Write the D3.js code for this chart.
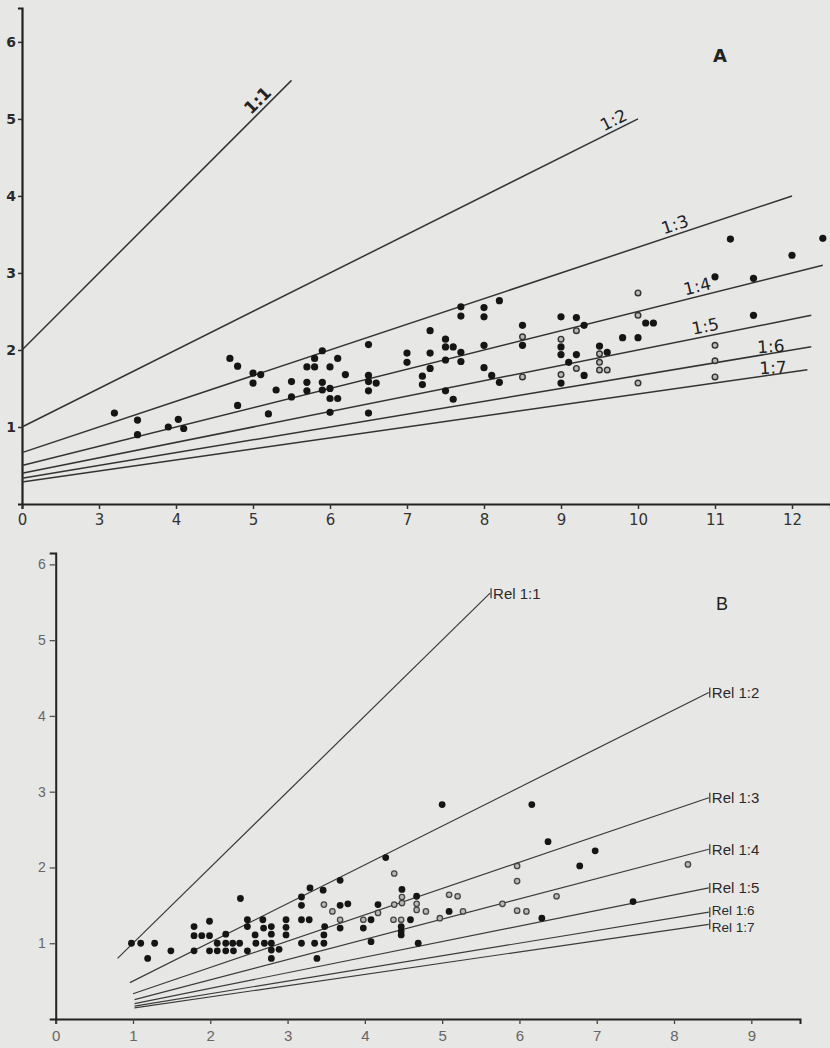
<!DOCTYPE html>
<html><head><meta charset="utf-8">
<script src="https://cdn.jsdelivr.net/npm/d3@7"></script>
<style>body{margin:0;background:#e7e7e5;}svg{display:block;}</style>
</head><body>
<svg id="chart" width="830" height="1048"></svg>
<script>
// ---------- Panel A data ----------
const ratiosA = [1, 2, 3, 4, 5, 6, 7];
const lineStartA = [2, 2, 2, 2, 2, 2, 2];
const lineEndA = [5.5, 10, 12, 12.4, 12.25, 12.25, 12.2];
const labelsA = ["1:1", "1:2", "1:3", "1:4", "1:5", "1:6", "1:7"];
const labelXA = [5.15, 9.74, 10.52, 10.8, 10.9, 11.73, 11.76];
const xTicksA = [2, 3, 4, 5, 6, 7, 8, 9, 10, 11, 12];
const xTickLabelsA = ["0", "3", "4", "5", "6", "7", "8", "9", "10", "11", "12"];
const yTicksA = [1, 2, 3, 4, 5, 6];
const filledA = [
  [3.2,1.18],[3.5,1.09],[3.5,0.9],[3.9,1.0],[4.03,1.1],[4.1,0.98],
  [4.7,1.89],[4.8,1.79],[4.8,1.28],[5.0,1.7],[5.0,1.57],[5.1,1.68],[5.2,1.17],[5.3,1.48],
  [5.5,1.59],[5.5,1.39],[5.7,1.78],[5.7,1.58],[5.7,1.47],[5.8,1.89],[5.8,1.78],[5.9,1.99],
  [5.9,1.58],[5.9,1.48],[6.0,1.78],[6.0,1.5],[6.0,1.37],[6.0,1.19],[6.1,1.89],[6.1,1.37],
  [6.2,1.68],[6.5,2.07],[6.5,1.67],[6.5,1.59],[6.5,1.47],[6.5,1.18],[6.6,1.57],
  [7.0,1.96],[7.0,1.84],[7.2,1.66],[7.2,1.55],[7.3,2.25],[7.3,1.96],[7.3,1.76],
  [7.5,2.14],[7.5,2.04],[7.5,1.87],[7.5,1.47],[7.6,2.04],[7.6,1.36],
  [7.7,2.56],[7.7,2.44],[7.7,1.97],[7.7,1.85],[8.0,2.55],[8.0,2.43],[8.0,2.06],[8.0,1.77],
  [8.1,1.67],[8.2,2.64],[8.2,1.58],[8.5,2.32],[8.5,2.06],
  [9.0,2.43],[9.0,2.04],[9.0,1.94],[9.0,1.57],[9.1,1.84],[9.2,2.42],[9.2,1.94],
  [9.3,2.32],[9.3,1.67],[9.5,2.05],[9.6,1.97],[9.8,2.16],[10.0,2.16],[10.1,2.35],[10.2,2.35],
  [11.2,3.44],[11.0,2.95],[11.5,2.93],[11.5,2.45],[12.0,3.23],[12.4,3.45]
];
const hollowA = [
  [8.5,2.17],[8.5,1.65],[9.0,2.14],[9.0,1.68],[9.2,2.25],[9.2,1.76],
  [9.5,1.95],[9.5,1.84],[9.5,1.74],[9.6,1.74],[10.0,2.74],[10.0,2.45],[10.0,1.57],
  [11.0,2.06],[11.0,1.86],[11.0,1.65]
];

// ---------- Panel B data ----------
const ratiosB = [1, 2, 3, 4, 5, 6, 7];
const lineStartB = [0.8, 0.96, 1, 1.02, 1.02, 1.02, 1.02];
const lineEndB = [5.62, 8.45, 8.45, 8.45, 8.45, 8.45, 8.45];
const labelsB = ["Rel 1:1", "Rel 1:2", "Rel 1:3", "Rel 1:4", "Rel 1:5", "Rel 1:6", "Rel 1:7"];
const labelYB = [5.62, 4.31, 2.92, 2.24, 1.73, 1.41, 1.25];
const xTicksB = [0, 1, 2, 3, 4, 5, 6, 7, 8, 9];
const yTicksB = [1, 2, 3, 4, 5, 6];
const filledB = [
  [0.98,1.0],[1.1,1.0],[1.19,0.8],[1.28,1.0],[1.49,0.9],
  [1.79,1.22],[1.79,1.1],[1.79,0.9],[1.89,1.1],[1.99,1.29],[1.99,1.1],[1.99,0.9],
  [2.09,1.0],[2.09,0.9],[2.2,1.12],[2.2,1.0],[2.2,0.9],[2.29,1.0],[2.3,0.9],[2.38,1.0],
  [2.39,1.59],[2.48,1.31],[2.48,1.22],[2.48,0.9],[2.58,1.11],[2.59,1.0],[2.68,1.31],
  [2.69,1.2],[2.7,1.0],[2.79,1.22],[2.79,1.12],[2.79,1.0],[2.79,0.91],[2.79,0.8],[2.89,0.92],
  [2.98,1.31],[2.98,1.21],[2.98,1.11],[3.18,1.61],[3.18,1.5],[3.18,1.31],[3.28,1.31],
  [3.18,1.0],[3.29,1.73],[3.35,1.0],[3.38,0.8],[3.46,1.7],[3.48,1.22],[3.47,1.11],[3.47,1.0],
  [3.68,1.83],[3.68,1.5],[3.68,1.2],[3.78,1.52],[3.98,1.2],[4.08,1.31],[4.08,1.02],
  [4.17,1.51],[4.27,2.13],[4.48,1.71],[4.47,1.22],[4.47,1.16],[4.47,1.11],[4.59,1.31],
  [4.67,1.62],[4.69,1.0],[5.0,2.83],[5.09,1.42],[6.16,2.83],[6.37,2.34],[6.29,1.33],
  [6.78,2.02],[6.98,2.22],[7.47,1.55]
];
const hollowB = [
  [3.47,1.51],[3.58,1.42],[3.68,1.31],[3.98,1.31],[4.17,1.4],[4.38,1.92],[4.38,1.51],
  [4.37,1.31],[4.48,1.61],[4.48,1.53],[4.47,1.31],[4.67,1.52],[4.67,1.44],[4.79,1.42],
  [4.97,1.33],[5.09,1.64],[5.2,1.62],[5.27,1.42],[5.78,1.52],[5.97,2.02],[5.97,1.82],
  [5.97,1.43],[6.09,1.42],[6.48,1.62],[8.18,2.04]
];

const svg = d3.select("#chart");
const bg = "#e7e7e5";
svg.append("rect").attr("width", 830).attr("height", 1048).attr("fill", bg);

// ---------- Panel A ----------
const xA = d3.scaleLinear().domain([2, 12.5]).range([22, 830.5]);
const yA = d3.scaleLinear().domain([0, 6.44]).range([504, 8]);
const gA = svg.append("g").attr("font-family", "DejaVu Sans, sans-serif");

const axAx = gA.append("g").attr("transform", `translate(0,${yA(0)})`)
  .call(d3.axisBottom(xA).tickValues(xTicksA).tickSize(5).tickPadding(5)
    .tickFormat((d, i) => xTickLabelsA[i]));
axAx.select(".domain").attr("stroke", "#222").attr("stroke-width", 2.2);
axAx.selectAll(".tick line").attr("stroke", "#333").attr("stroke-width", 1.5);
axAx.selectAll("text").attr("font-size", 15).attr("fill", "#333")
  .attr("font-family", "DejaVu Sans, sans-serif");

const ayAx = gA.append("g").attr("transform", `translate(${xA(2)},0)`)
  .call(d3.axisLeft(yA).tickValues(yTicksA).tickSize(4).tickPadding(2).tickFormat(d3.format("d")));
ayAx.select(".domain").attr("stroke", "#222").attr("stroke-width", 2.2);
ayAx.selectAll(".tick line").attr("stroke", "#333").attr("stroke-width", 1.5);
ayAx.selectAll("text").attr("font-size", 14).attr("fill", "#2a2a2a").attr("font-weight", "bold")
  .attr("font-family", "DejaVu Sans, sans-serif");

gA.selectAll("line.ratio").data(ratiosA).join("line").attr("class", "ratio")
  .attr("x1", (d, i) => xA(lineStartA[i])).attr("y1", (d, i) => yA(lineStartA[i] / d))
  .attr("x2", (d, i) => xA(lineEndA[i])).attr("y2", (d, i) => yA(lineEndA[i] / d))
  .attr("stroke", "#333").attr("stroke-width", 1.5);

gA.selectAll("text.rlab").data(ratiosA).join("text").attr("class", "rlab")
  .attr("transform", (d, i) => {
    const px = xA(labelXA[i]), py = yA(labelXA[i] / d);
    const ang = d >= 6 ? -3 : -Math.atan(1 / d) * 180 / Math.PI;
    return `translate(${px},${py}) rotate(${ang})`;
  })
  .attr("dy", (d) => d >= 6 ? -1 : -4)
  .attr("text-anchor", "middle").attr("font-size", 17).attr("fill", "#222")
  .attr("font-weight", (d) => d === 1 ? "bold" : "normal")
  .text((d, i) => labelsA[i]);

gA.append("text").attr("x", 720).attr("y", 62).attr("text-anchor", "middle")
  .attr("font-size", 18).attr("font-weight", "bold").attr("fill", "#222").text("A");

gA.selectAll("circle.fa").data(filledA).join("circle").attr("class", "fa")
  .attr("cx", d => xA(d[0])).attr("cy", d => yA(d[1])).attr("r", 3.6).attr("fill", "#151515");
gA.selectAll("circle.ha").data(hollowA).join("circle").attr("class", "ha")
  .attr("cx", d => xA(d[0])).attr("cy", d => yA(d[1])).attr("r", 2.8)
  .attr("fill", "#b8b8b6").attr("stroke", "#333").attr("stroke-width", 1.4);

// ---------- Panel B ----------
const xB = d3.scaleLinear().domain([0, 9.63]).range([55.7, 800]);
const yB = d3.scaleLinear().domain([0, 6.15]).range([1019, 553]);
const gB = svg.append("g").attr("font-family", "Liberation Sans, Arial, sans-serif");

const bxAx = gB.append("g").attr("transform", `translate(0,${yB(0)})`)
  .call(d3.axisBottom(xB).tickValues(xTicksB).tickSize(5).tickPadding(6).tickFormat(d3.format("d")));
bxAx.select(".domain").attr("stroke", "#222").attr("stroke-width", 2);
bxAx.selectAll(".tick line").attr("stroke", "#444").attr("stroke-width", 1.3);
bxAx.selectAll("text").attr("font-size", 15).attr("fill", "#666")
  .attr("font-family", "Liberation Sans, Arial, sans-serif");

const byAx = gB.append("g").attr("transform", `translate(${xB(0)},0)`)
  .call(d3.axisLeft(yB).tickValues(yTicksB).tickSize(6).tickPadding(4).tickFormat(d3.format("d")));
byAx.select(".domain").attr("stroke", "#222").attr("stroke-width", 2);
byAx.selectAll(".tick line").attr("stroke", "#555").attr("stroke-width", 1.3);
byAx.selectAll("text").attr("font-size", 14).attr("fill", "#666")
  .attr("font-family", "Liberation Sans, Arial, sans-serif");

gB.selectAll("line.ratio").data(ratiosB).join("line").attr("class", "ratio")
  .attr("x1", (d, i) => xB(lineStartB[i])).attr("y1", (d, i) => yB(lineStartB[i] / d))
  .attr("x2", (d, i) => xB(lineEndB[i])).attr("y2", (d, i) => yB(labelYB[i]))
  .attr("stroke", "#3a3a3a").attr("stroke-width", 1.2);

gB.selectAll("line.endtick").data(ratiosB).join("line").attr("class", "endtick")
  .attr("x1", (d, i) => xB(lineEndB[i]) + 1).attr("x2", (d, i) => xB(lineEndB[i]) + 1)
  .attr("y1", (d, i) => yB(labelYB[i]) - 5).attr("y2", (d, i) => yB(labelYB[i]) + 5)
  .attr("stroke", "#333").attr("stroke-width", 1.2);

gB.selectAll("text.rlab").data(ratiosB).join("text").attr("class", "rlab")
  .attr("x", (d, i) => xB(lineEndB[i]) + 3)
  .attr("y", (d, i) => yB(labelYB[i]) + (d === 6 ? -2.5 : d === 7 ? 3 : 0))
  .attr("dy", "0.36em").attr("font-size", (d) => d >= 6 ? 13.5 : 15).attr("fill", "#2a2a2a")
  .text((d, i) => labelsB[i]);

gB.append("text").attr("x", 722).attr("y", 610).attr("text-anchor", "middle")
  .attr("font-size", 18).attr("fill", "#222").text("B");

gB.selectAll("circle.fb").data(filledB).join("circle").attr("class", "fb")
  .attr("cx", d => xB(d[0])).attr("cy", d => yB(d[1])).attr("r", 3.4).attr("fill", "#151515");
gB.selectAll("circle.hb").data(hollowB).join("circle").attr("class", "hb")
  .attr("cx", d => xB(d[0])).attr("cy", d => yB(d[1])).attr("r", 2.7)
  .attr("fill", "#b8b8b6").attr("stroke", "#444").attr("stroke-width", 1.3);
</script>
</body></html>
